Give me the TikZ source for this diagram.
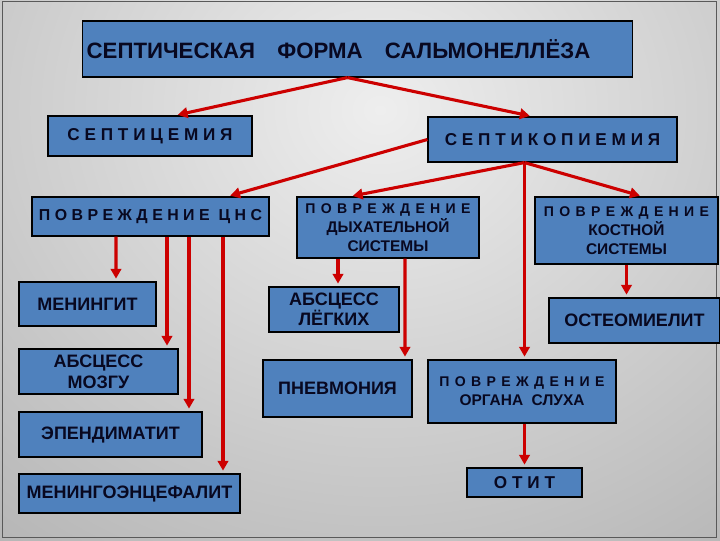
\documentclass[tikz,border=0pt]{standalone}
\usepackage{fontspec}
\setmainfont{Liberation Sans}
\newfontfamily\spacedfont[LetterSpace=28]{Liberation Sans}
\newfontfamily\widefont[LetterSpace=38]{Liberation Sans}
\usetikzlibrary{arrows.meta}
\usetikzlibrary{calc}
\definecolor{boxblue}{RGB}{79,129,189}
\definecolor{arrred}{RGB}{204,0,0}
\definecolor{txtnavy}{RGB}{8,8,32}
\definecolor{bglight}{RGB}{238,238,238}
\definecolor{bgdark}{RGB}{148,148,148}
\tikzset{box/.style={draw=black,fill=boxblue,line width=0.8pt,inner sep=0pt,
   text=txtnavy,align=center,font=\bfseries\fontsize{12.8}{15}\selectfont},
 spaced/.style={font=\spacedfont\bfseries\fontsize{12.2}{14}\selectfont},
 small/.style={font=\bfseries\fontsize{11}{13.5}\selectfont},
 link/.style={draw=arrred,line width=2.2pt,-{Triangle[length=7pt,width=7.5pt]},shorten >=2pt},
 frame/.style={draw=black!65,line width=0.7pt},
 }

\begin{document}
\begin{tikzpicture}[x=0.025cm,y=-0.025cm]
    \useasboundingbox (0,0) rectangle (720,540);
    \begin{scope}
        \clip (0,0) rectangle (720,540);
        \shade[inner color=bglight,outer color=bgdark] (380,110) ellipse (25cm and 22cm);
    \end{scope}
    \draw[frame] (2,1.5) rectangle (716.5,537);

    \node[box,minimum width=13.725cm,minimum height=1.4cm,font=\bfseries\fontsize{15.8}{17}\selectfont] (forma) at (357.5,49)
        {СЕПТИЧЕСКАЯ\quad ФОРМА\quad САЛЬМОНЕЛЛЁЗА\hspace*{27pt}};
    \node[box,spaced,minimum width=5.1cm,minimum height=1cm] (septicem) at (150,136) {СЕПТИЦЕМИЯ};
    \node[box,spaced,minimum width=6.225cm,minimum height=1.125cm] (sepkop) at (552.5,139.5) {СЕПТИКОПИЕМИЯ};
    \node[box,font=\spacedfont\bfseries\fontsize{11.3}{14}\selectfont,minimum width=5.925cm,minimum height=0.975cm] (cns) at (150.5,216.5)
        {ПОВРЕЖДЕНИЕ ЦНС};
    \node[box,small,minimum width=4.55cm,minimum height=1.525cm] (dyh) at (388,227.5)
        {{\widefont\fontsize{10}{13.5}\selectfont ПОВРЕЖДЕНИЕ}\\ ДЫХАТЕЛЬНОЙ\\ СИСТЕМЫ};
    \node[box,small,minimum width=4.575cm,minimum height=1.675cm] (kost) at (626.5,230.5)
        {{\widefont\fontsize{10}{13.5}\selectfont ПОВРЕЖДЕНИЕ}\\ КОСТНОЙ\\ СИСТЕМЫ};

    \node[box,minimum width=3.425cm,minimum height=1.1cm] (menin) at (87.5,304) {МЕНИНГИТ};
    \node[box,minimum width=3.975cm,minimum height=1.125cm] (mozg) at (98.5,371.5) {АБСЦЕСС\\ МОЗГУ};
    \node[box,minimum width=4.575cm,minimum height=1.125cm] (epend) at (110.5,434.5) {ЭПЕНДИМАТИТ};
    \node[box,minimum width=5.525cm,minimum height=0.975cm] (mencef) at (129.5,493.5) {МЕНИНГОЭНЦЕФАЛИТ};

    \node[box,minimum width=3.25cm,minimum height=1.125cm,font=\bfseries\fontsize{12.8}{14.2}\selectfont] (legk) at (334,309.5)
        {АБСЦЕСС\\ ЛЁГКИХ};
    \node[box,minimum width=3.725cm,minimum height=1.425cm] (pnevm) at (337.5,388.5) {ПНЕВМОНИЯ};
    \node[box,small,minimum width=4.7cm,minimum height=1.575cm] (sluh) at (522,391.5)
        {{\widefont\fontsize{10}{13.5}\selectfont ПОВРЕЖДЕНИЕ}\\ ОРГАНА\ \ СЛУХА};
    \node[box,spaced,minimum width=2.875cm,minimum height=0.725cm] (otit) at (524.5,482.5) {ОТИТ};
    \node[box,minimum width=4.275cm,minimum height=1.125cm] (osteo) at (634.5,320.5) {ОСТЕОМИЕЛИТ};

    \draw[link] ($(forma.south)+(-10,0)$) -- ($(septicem.north)+(25,0)$);
    \draw[link] ($(forma.south)+(-10,0)$) -- ($(sepkop.north)+(-20,0)$);
    \draw[link] (sepkop.west) -- ($(cns.north)+(77,0)$);
    \draw[link] ($(sepkop.south)+(-28,0)$) -- ($(dyh.north)+(-38,0)$);
    \draw[link] ($(sepkop.south)+(-28,0)$) -- ($(kost.north)+(16,0)$);
    \draw[link] ($(sepkop.south)+(-28,0)$) -- ($(sluh.north)+(2.5,0)$);

    \draw[link] ($(cns.south)+(-34.5,0)$) -- ($(menin.north)+(28.5,0)$);
    \draw[link] ($(cns.south)+(16.5,0)$) -- ($(mozg.north)+(68.5,0)$);
    \draw[link] ($(cns.south)+(38.5,0)$) -- ($(epend.north)+(78.5,0)$);
    \draw[link] ($(cns.south)+(72.5,0)$) -- ($(mencef.north)+(93.5,0)$);

    \draw[link] ($(dyh.south)+(-50,0)$) -- ($(legk.north)+(4,0)$);
    \draw[link] ($(dyh.south)+(17,0)$) -- ($(pnevm.north)+(67.5,0)$);
    \draw[link] (kost.south) -- ($(osteo.north)+(-8,0)$);
    \draw[link] ($(sluh.south)+(2.5,0)$) -- (otit.north);
\end{tikzpicture}
\end{document}
